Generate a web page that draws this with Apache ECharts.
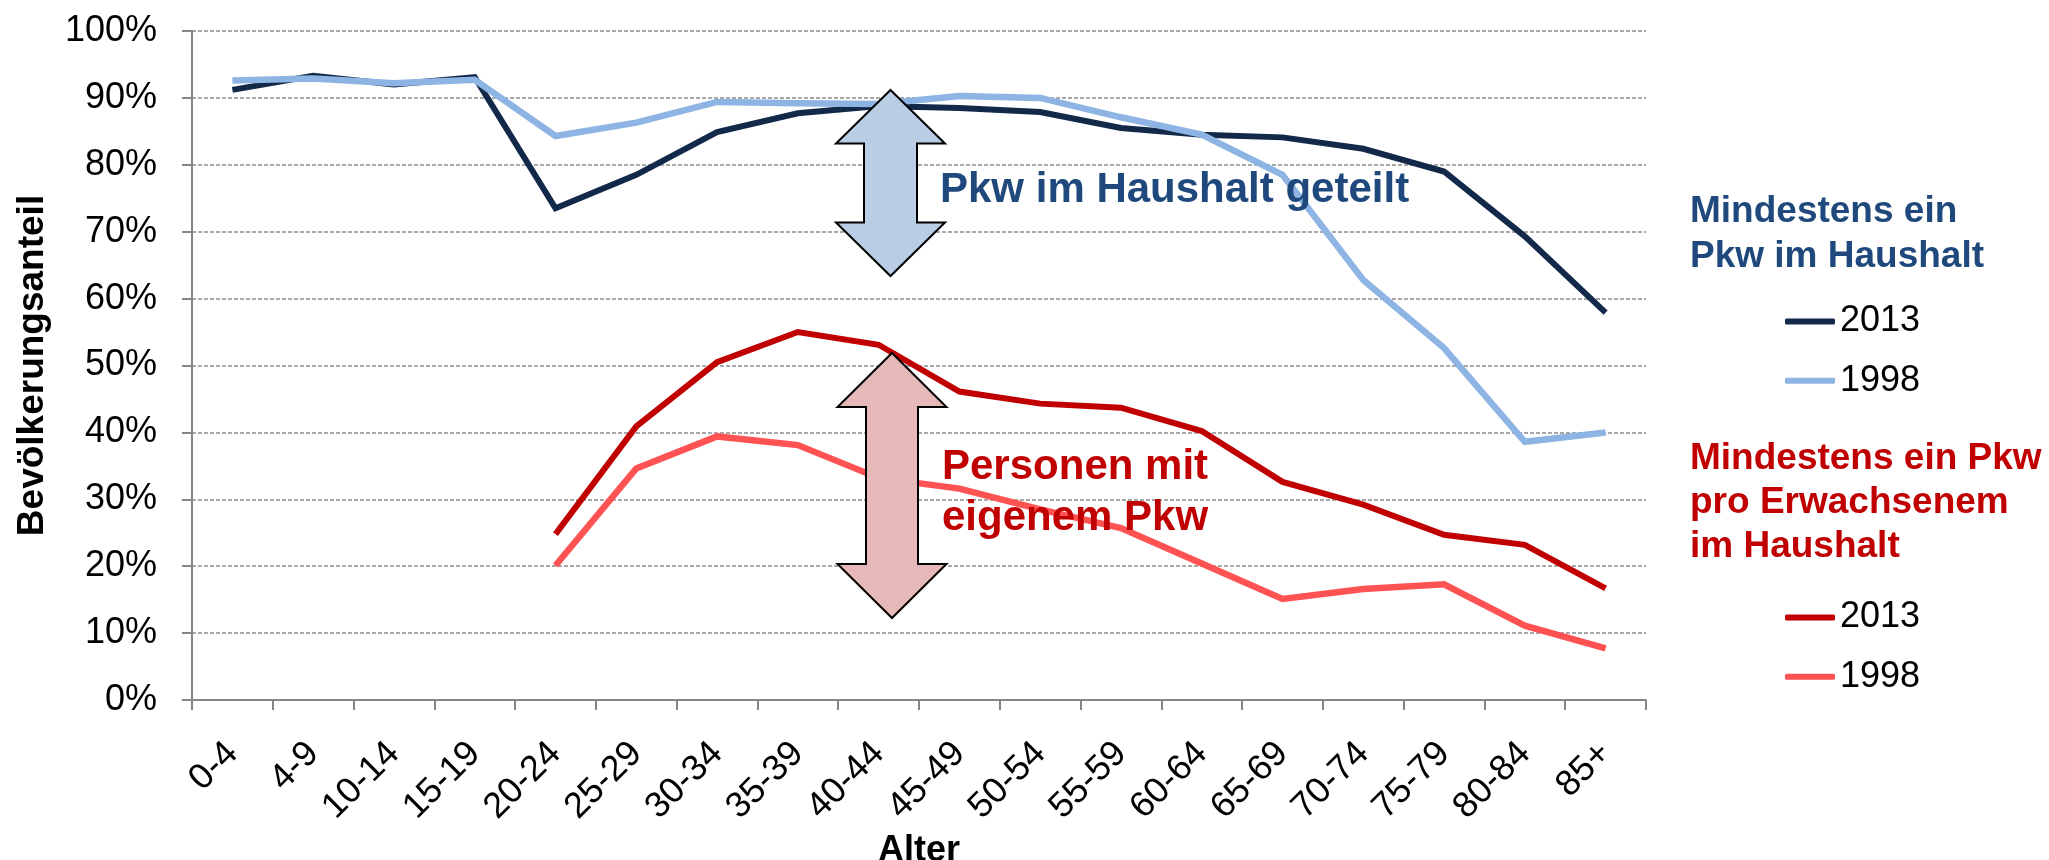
<!doctype html>
<html>
<head>
<meta charset="utf-8">
<title>Pkw-Verfügbarkeit nach Alter</title>
<style>
html, body { margin: 0; padding: 0; background: #fff; }
#chart { width: 2049px; height: 860px; }
</style>
<script src="https://cdn.jsdelivr.net/npm/echarts@6/dist/echarts.min.js"></script>
</head>
<body>
<div id="chart"></div>
<script>
// Altersgruppen
var ages = ['0-4', '4-9', '10-14', '15-19', '20-24', '25-29', '30-34', '35-39', '40-44',
            '45-49', '50-54', '55-59', '60-64', '65-69', '70-74', '75-79', '80-84', '85+'];

// Mindestens ein Pkw im Haushalt (%)
var hh2013 = [91.2, 93.3, 92.0, 93.1, 73.5, 78.5, 84.9, 87.7, 88.8, 88.5, 87.9, 85.5, 84.5, 84.1, 82.4, 79.0, 69.3, 57.9];
var hh1998 = [92.6, 92.9, 92.2, 92.7, 84.3, 86.3, 89.4, 89.2, 89.1, 90.3, 90.0, 87.1, 84.5, 78.5, 62.8, 52.6, 38.6, 40.0];

// Mindestens ein Pkw pro Erwachsenem im Haushalt (%)
var pers2013 = [null, null, null, null, 24.8, 40.9, 50.5, 55.0, 53.1, 46.1, 44.3, 43.7, 40.2, 32.6, 29.2, 24.7, 23.2, 16.7];
var pers1998 = [null, null, null, null, 20.1, 34.6, 39.4, 38.1, 33.2, 31.6, 28.5, 25.7, 20.4, 15.1, 16.6, 17.3, 11.1, 7.7];

var FONT = "'Liberation Sans', Arial, sans-serif";
var NAVY = '#13294a', LIGHTBLUE = '#8db4e3', RED = '#c00000', LIGHTRED = '#ff5353';

// Doppelpfeil als Polygon
function doubleArrow(cx, top, bottom, headHalf, shaftHalf, headH) {
    return [
        [cx, top], [cx + headHalf, top + headH], [cx + shaftHalf, top + headH],
        [cx + shaftHalf, bottom - headH], [cx + headHalf, bottom - headH], [cx, bottom],
        [cx - headHalf, bottom - headH], [cx - shaftHalf, bottom - headH],
        [cx - shaftHalf, top + headH], [cx - headHalf, top + headH]
    ];
}

function lineSeries(name, data, color, width) {
    return {
        name: name,
        type: 'line',
        data: data,
        symbol: 'none',
        color: color,
        lineStyle: { color: color, width: width, join: 'miter' },
        z: 2
    };
}

var myChart = echarts.init(document.getElementById('chart'));

var option = {
    animation: false,
    backgroundColor: '#fff',
    textStyle: { fontFamily: FONT },
    grid: { left: 192, right: 403, top: 31, bottom: 160, containLabel: false, outerBoundsMode: 'none' },
    legend: [{
        orient: 'vertical',
        left: 1780, top: 298.5,
        itemWidth: 50, itemHeight: 6, itemGap: 23.3,
        icon: 'roundRect',
        data: ['Haushalt 2013', 'Haushalt 1998'],
        formatter: function (n) { return n.slice(-4); },
        textStyle: { fontSize: 36, color: '#000', fontFamily: FONT }
    }, {
        orient: 'vertical',
        left: 1780, top: 594.5,
        itemWidth: 50, itemHeight: 6, itemGap: 23.3,
        icon: 'roundRect',
        data: ['Person 2013', 'Person 1998'],
        formatter: function (n) { return n.slice(-4); },
        textStyle: { fontSize: 36, color: '#000', fontFamily: FONT }
    }],
    xAxis: {
        type: 'category',
        data: ages,
        boundaryGap: true,
        name: 'Alter',
        nameLocation: 'middle',
        nameGap: 119,
        nameTextStyle: { fontSize: 36, fontWeight: 'bold', color: '#000', fontFamily: FONT },
        axisLine: { lineStyle: { color: '#868686', width: 2 } },
        axisTick: { show: true, length: 10, lineStyle: { color: '#868686', width: 2 } },
        axisLabel: { rotate: 45, fontSize: 36, color: '#000', margin: 48, interval: 0, fontFamily: FONT }
    },
    yAxis: {
        type: 'value',
        min: 0, max: 100, interval: 10,
        name: 'Bevölkerungsanteil',
        nameLocation: 'middle',
        nameGap: 141,
        nameTextStyle: { fontSize: 37, fontWeight: 'bold', color: '#000', fontFamily: FONT },
        axisLine: { show: true, lineStyle: { color: '#868686', width: 2 } },
        axisTick: { show: true, length: 10, lineStyle: { color: '#868686', width: 2 } },
        axisLabel: { formatter: '{value}%', fontSize: 36, color: '#000', margin: 35, fontFamily: FONT },
        splitLine: { lineStyle: { color: '#8c8c8c', width: 1.5, type: [4, 2] } }
    },
    series: [
        lineSeries('Haushalt 2013', hh2013, NAVY, 6),
        lineSeries('Haushalt 1998', hh1998, LIGHTBLUE, 6.5),
        lineSeries('Person 2013', pers2013, RED, 6),
        lineSeries('Person 1998', pers1998, LIGHTRED, 6.5)
    ],
    graphic: [
        {
            type: 'polygon', z: 10,
            shape: { points: doubleArrow(890.5, 90, 276, 54.5, 26.5, 53.5) },
            style: { fill: '#b9cde5', stroke: '#000', lineWidth: 2 }
        },
        {
            type: 'polygon', z: 10,
            shape: { points: doubleArrow(892, 353, 618, 54.5, 26, 54) },
            style: { fill: '#e6b9b8', stroke: '#000', lineWidth: 2 }
        },
        {
            type: 'text', z: 11, left: 940, top: 169.5,
            style: { text: 'Pkw im Haushalt geteilt', fill: '#1f497d', font: 'bold 42px ' + FONT }
        },
        {
            type: 'text', z: 11, left: 942, top: 441.5,
            style: { text: 'Personen mit\neigenem Pkw', fill: RED, font: 'bold 42px ' + FONT, lineHeight: 51 }
        },
        {
            type: 'text', z: 11, left: 1690, top: 189.5,
            style: { text: 'Mindestens ein\nPkw im Haushalt', fill: '#1f497d', font: 'bold 37px ' + FONT, lineHeight: 45 }
        },
        {
            type: 'text', z: 11, left: 1690, top: 436.5,
            style: { text: 'Mindestens ein Pkw\npro Erwachsenem\nim Haushalt', fill: RED, font: 'bold 37px ' + FONT, lineHeight: 44 }
        }
    ]
};

myChart.setOption(option);
</script>
</body>
</html>
